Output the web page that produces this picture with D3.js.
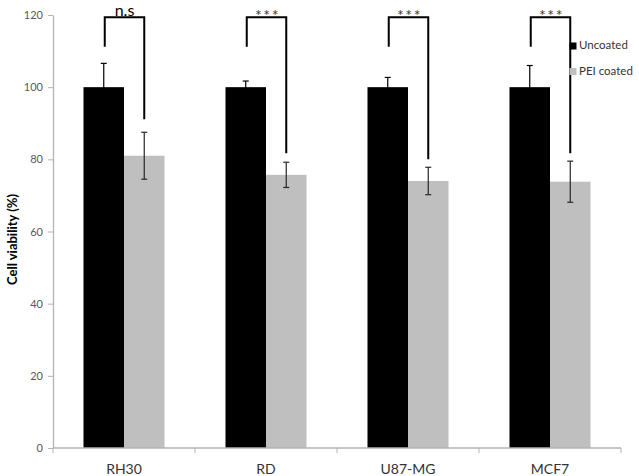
<!DOCTYPE html>
<html><head><meta charset="utf-8">
<script src="https://cdn.jsdelivr.net/npm/d3@7"></script>
<style>body{margin:0;background:#fff}svg{display:block}</style>
</head><body>
<script>
const categories = ["RH30", "RD", "U87-MG", "MCF7"];
const seriesNames = ["Uncoated", "PEI coated"];
const uncoated = [100, 100, 100, 100];
const uncoatedErr = [6.6, 1.7, 2.7, 6.0];
const peiCoated = [81.0, 75.7, 74.0, 73.8];
const peiErr = [6.5, 3.5, 3.8, 5.7];
const yTicks = [0, 20, 40, 60, 80, 100, 120];
const sigLabels = ["n.s", "***", "***", "***"];
const bracketTop = [119.4, 119.4, 119.4, 119.4];
const bracketLeftEnd = [111.2, 111.2, 111.2, 111.2];
const bracketRightEnd = [91.1, 81.7, 80.0, 81.7];

const W = 639, H = 476;
const m = {left: 53, right: 18, top: 15, bottom: 28};
const font = "Lato, 'Open Sans', sans-serif";
const colors = ["#000000", "#bfbfbf"];

const svg = d3.select("body").append("svg").attr("width", W).attr("height", H);

const x0 = d3.scaleBand().domain(categories).range([m.left, W - m.right]).paddingInner(0).paddingOuter(0);
const x1 = d3.scaleBand().domain(seriesNames).range([0, x0.bandwidth()]).paddingInner(0).paddingOuter(0.753);
const y = d3.scaleLinear().domain([0, 120]).range([H - m.bottom, m.top]);

const seriesData = [uncoated, peiCoated];
const seriesErr = [uncoatedErr, peiErr];

// bars
seriesNames.forEach((s, si) => {
  svg.append("g").selectAll("rect").data(categories).join("rect")
    .attr("x", c => x0(c) + x1(s))
    .attr("y", (c, i) => y(seriesData[si][i]))
    .attr("width", x1.bandwidth())
    .attr("height", (c, i) => y(0) - y(seriesData[si][i]))
    .attr("fill", colors[si]);
});

// error bars
seriesNames.forEach((s, si) => {
  const g = svg.append("g").attr("stroke", si === 0 ? "#000" : "#262626").attr("stroke-width", 1.2);
  categories.forEach((c, i) => {
    const cx = x0(c) + x1(s) + x1.bandwidth() / 2;
    const v = seriesData[si][i], e = seriesErr[si][i];
    g.append("line").attr("x1", cx).attr("x2", cx).attr("y1", y(v + e)).attr("y2", y(v - e));
    g.append("line").attr("x1", cx - 3).attr("x2", cx + 3).attr("y1", y(v + e)).attr("y2", y(v + e));
    g.append("line").attr("x1", cx - 3).attr("x2", cx + 3).attr("y1", y(v - e)).attr("y2", y(v - e));
  });
});

// y axis
const yAxis = svg.append("g").attr("transform", `translate(${m.left},0)`)
  .call(d3.axisLeft(y).tickValues(yTicks).tickSize(5).tickSizeOuter(0).tickPadding(5));
yAxis.select(".domain").attr("stroke", "#b3b3b3").attr("stroke-width", 1.3);
yAxis.selectAll(".tick line").attr("stroke", "#b3b3b3");
yAxis.selectAll(".tick text").attr("fill", "#595959").style("font-family", font).style("font-size", "11px");

// x axis
const xg = svg.append("g");
xg.append("line").attr("x1", m.left).attr("x2", W - m.right).attr("y1", y(0)).attr("y2", y(0))
  .attr("stroke", "#b3b3b3").attr("stroke-width", 1.3);
const bounds = categories.map(c => x0(c)).concat([x0(categories[categories.length - 1]) + x0.bandwidth()]);
xg.selectAll("line.tk").data(bounds).join("line").attr("class", "tk")
  .attr("x1", d => d).attr("x2", d => d).attr("y1", y(0)).attr("y2", y(0) + 5)
  .attr("stroke", "#b3b3b3");
xg.selectAll("text").data(categories).join("text")
  .attr("x", c => x0(c) + x0.bandwidth() / 2).attr("y", y(0) + 26)
  .attr("text-anchor", "middle").attr("fill", "#333")
  .style("font-family", font).style("font-size", "14px").text(c => c);

// y label
svg.append("text").attr("transform", `translate(17,${(y(0) + y(120)) / 2 + 8}) rotate(-90)`)
  .attr("text-anchor", "middle").attr("fill", "#000").style("font-family", font)
  .style("font-size", "13px").style("font-weight", "bold").text("Cell viability (%)");

// significance brackets
categories.forEach((c, i) => {
  const lx = x0(c) + x1(seriesNames[0]) + x1.bandwidth() / 2 + 1;
  const rx = x0(c) + x1(seriesNames[1]) + x1.bandwidth() / 2;
  svg.append("path")
    .attr("d", `M${lx},${y(bracketLeftEnd[i])}V${y(bracketTop[i])}H${rx}V${y(bracketRightEnd[i])}`)
    .attr("fill", "none").attr("stroke", "#000").attr("stroke-width", 2);
  const isNs = sigLabels[i] === "n.s";
  svg.append("text").attr("x", (lx + rx) / 2 + (isNs ? 0 : 1)).attr("y", isNs ? y(bracketTop[i]) - 1.5 : y(bracketTop[i]) + 3.5)
    .attr("text-anchor", "middle").attr("fill", isNs ? "#000" : "#3a3a3a")
    .style("font-family", font).style("font-size", "16px")
    .style("letter-spacing", isNs ? "0px" : "1.5px")
    .text(sigLabels[i]);
});

// legend
const lg = svg.append("g");
seriesNames.forEach((s, si) => {
  const ly = 49 + si * 25.5;
  lg.append("rect").attr("x", 569.5).attr("y", ly - 6.5).attr("width", 7).attr("height", 7).attr("fill", colors[si]);
  lg.append("text").attr("x", 579).attr("y", ly).attr("fill", "#333")
    .style("font-family", font).style("font-size", "11.5px").text(s);
});
</script>
</body></html>
